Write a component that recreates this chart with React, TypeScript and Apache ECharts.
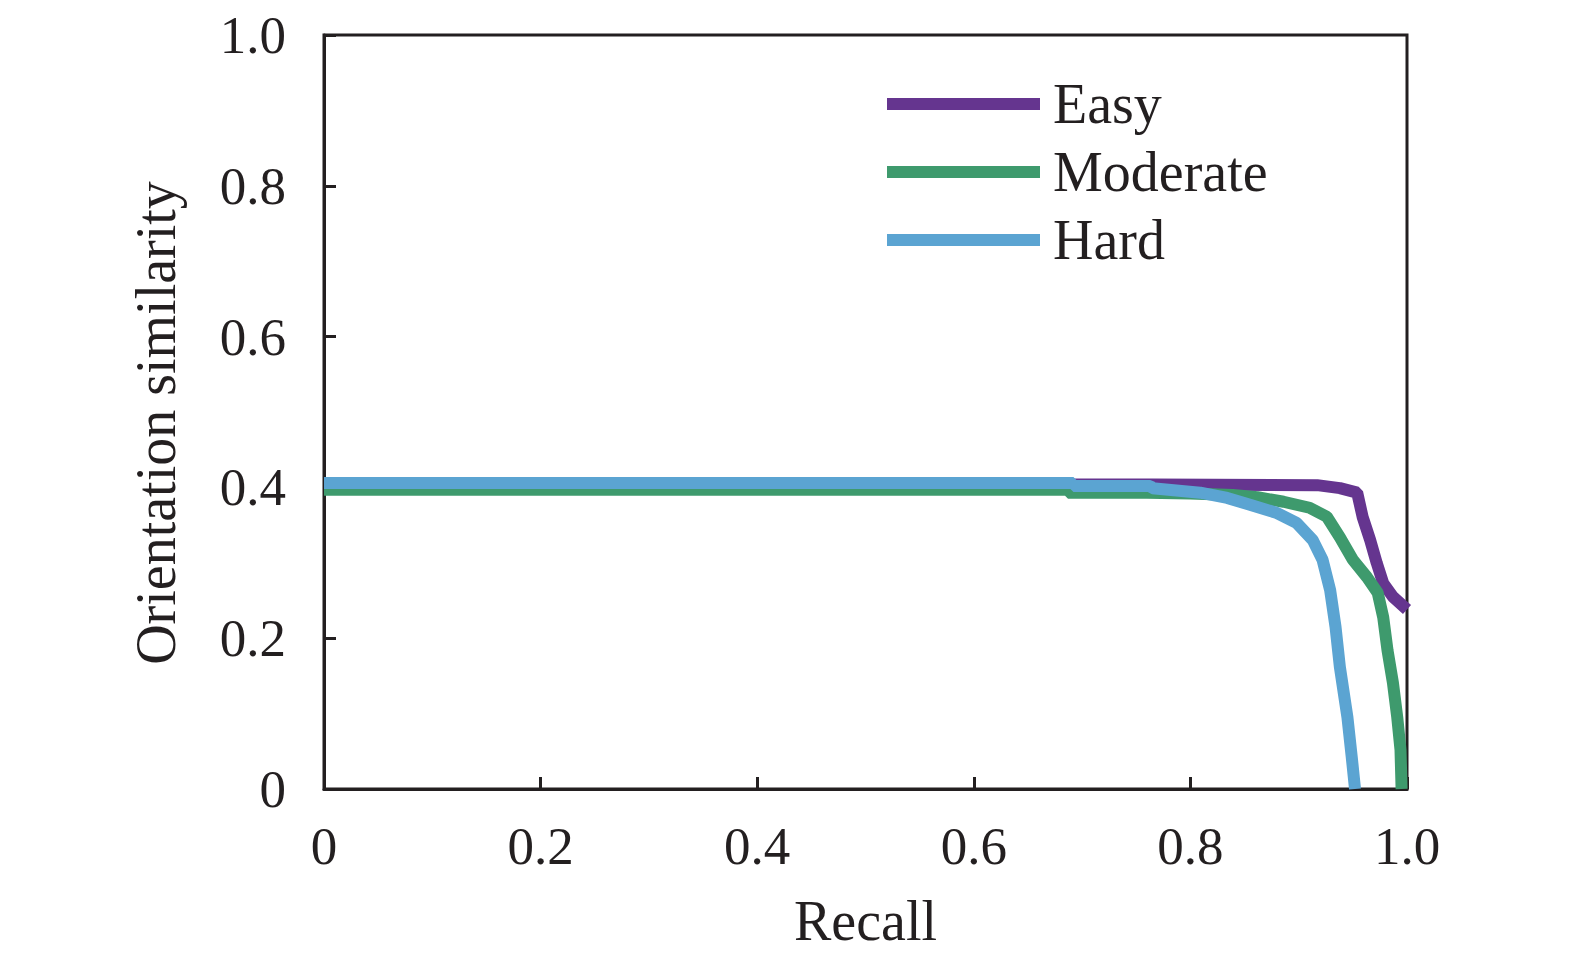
import React, { useEffect, useRef } from "react";
import * as echarts from "echarts";

const seriesNames = ["Easy", "Moderate", "Hard"];
const seriesColors = ["#65358f", "#3e9a6d", "#5ba4d2"];

const easyData: [number, number][] = [
  [0, 0.404], [0.765, 0.404], [0.917, 0.403], [0.938, 0.399], [0.954, 0.393],
  [0.959, 0.361], [0.966, 0.33], [0.972, 0.3], [0.978, 0.273], [0.987, 0.255],
  [1.0, 0.238],
];

const moderateData: [number, number][] = [
  [0, 0.397], [0.687, 0.397], [0.687, 0.393], [0.76, 0.393], [0.8, 0.392],
  [0.839, 0.39], [0.862, 0.387], [0.886, 0.381], [0.91, 0.373], [0.926, 0.361],
  [0.938, 0.334], [0.95, 0.304], [0.963, 0.281], [0.973, 0.26], [0.978, 0.228],
  [0.982, 0.184], [0.987, 0.141], [0.991, 0.095], [0.994, 0.052], [0.995, 0.0],
];

const hardData: [number, number][] = [
  [0, 0.406], [0.692, 0.406], [0.692, 0.402], [0.763, 0.402], [0.765, 0.399],
  [0.809, 0.393], [0.834, 0.386], [0.855, 0.377], [0.88, 0.366], [0.898, 0.353],
  [0.913, 0.33], [0.922, 0.304], [0.929, 0.264], [0.934, 0.215], [0.938, 0.162],
  [0.945, 0.095], [0.949, 0.042], [0.952, 0.0],
];

const allData = [easyData, moderateData, hardData];

const FONT = "'Liberation Serif', 'Times New Roman', serif";
const INK = "#231f20";

function fmt(v: number) {
  if (v === 0) return "0";
  return v.toFixed(1);
}

export default function App() {
  const ref = useRef<HTMLDivElement>(null);
  useEffect(() => {
    document.body.style.margin = "0";
    if (!ref.current) return;
    const chart = echarts.init(ref.current, undefined, { renderer: "svg" });
    const axisCommon = {
      type: "value" as const,
      min: 0,
      max: 1,
      interval: 0.2,
      splitLine: { show: false },
      axisLine: { show: true, lineStyle: { color: INK, width: 3 } },
      axisTick: { show: true, inside: true, length: 12, lineStyle: { color: INK, width: 3 } },
      nameLocation: "middle" as const,
    };
    chart.setOption({
      animation: false,
      backgroundColor: "#ffffff",
      grid: {
        left: 324,
        right: 168,
        top: 35,
        bottom: 178,
        show: true,
        borderColor: INK,
        borderWidth: 3,
        backgroundColor: "transparent",
      },
      legend: {
        orient: "vertical",
        left: 882,
        top: 70,
        itemWidth: 153,
        itemHeight: 12,
        itemGap: 10,
        icon: "rect",
        data: seriesNames,
        textStyle: { fontFamily: FONT, fontSize: 56, color: INK, lineHeight: 58, padding: [0, 0, 0, 8] },
      },
      xAxis: {
        ...axisCommon,
        name: "Recall",
        nameGap: 104,
        nameTextStyle: { fontFamily: FONT, fontSize: 56, color: INK },
        axisLabel: { formatter: fmt, fontFamily: FONT, fontSize: 53, color: INK, margin: 30 },
      },
      yAxis: {
        ...axisCommon,
        name: "Orientation similarity",
        nameGap: 140,
        nameTextStyle: { fontFamily: FONT, fontSize: 56, color: INK, padding: [0, 22, 0, 0] },
        axisLabel: { formatter: fmt, fontFamily: FONT, fontSize: 53, color: INK, margin: 38 },
      },
      series: seriesNames.map((name, i) => ({
        name,
        type: "line",
        data: allData[i],
        showSymbol: false,
        symbol: "none",
        clip: true,
        lineStyle: { color: seriesColors[i], width: 12 },
        itemStyle: { color: seriesColors[i] },
      })),
    });
    return () => chart.dispose();
  }, []);
  return <div ref={ref} style={{ width: 1575, height: 967 }} />;
}
